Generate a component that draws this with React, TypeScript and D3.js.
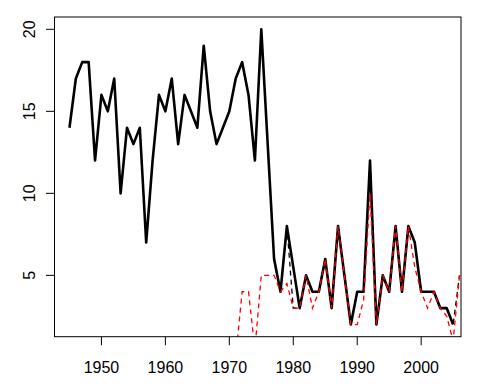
import React, { useEffect, useRef } from 'react';
import * as d3 from 'd3';

// observed series (solid black), 1945-2005
const obsYears = d3.range(1945, 2006);
const obsValues = [
  14, 17, 18, 18, 12, 16, 15, 17, 10, 14,
  13, 14, 7, 12, 16, 15, 17, 13, 16, 15,
  14, 19, 15, 13, 14, 15, 17, 18, 16, 12,
  20, 13, 6, 4, 8, 5.5, 3, 5, 4, 4,
  6, 3, 8, 5, 2, 4, 4, 12, 2, 5,
  4, 8, 4, 8, 7, 4, 4, 4, 3, 3,
  2,
];

// black dashed series, 1977-2006
const dashYears = d3.range(1977, 2007);
const dashValues = [
  6, 4, 8, 3, 3, 5, 4, 4, 6, 3,
  8, 5, 2, 4, 4, 12, 2, 5, 4, 8,
  4, 8, 7, 4, 4, 4, 3, 3, 2, 5,
];

// red dashed series, 1971-2006
const redYears = d3.range(1971, 2007);
const redValues = [
  0, 4, 4, 0.5, 5, 5, 5, 4, 4.5, 3,
  3, 5, 3, 4, 6, 3, 8, 5, 2, 2,
  3.5, 10, 2, 5, 4, 8, 4, 8, 5.5, 4,
  3, 4, 3, 2.5, 1, 5,
];

const xTicks = [1950, 1960, 1970, 1980, 1990, 2000];
const yTicks = [5, 10, 15, 20];

const W = 479;
const H = 391;

const App: React.FC = () => {
  const svgRef = useRef<SVGSVGElement>(null);

  useEffect(() => {
    if (!svgRef.current) return;
    d3.select(svgRef.current).selectAll('*').remove();
    const svg = d3.select(svgRef.current);

    const left = 54.5, right = 461, top = 17, bottom = 336.7;
    const x = d3.scaleLinear().domain([1942.66, 2006.23]).range([left, right]);
    const y = d3.scaleLinear().domain([1.26, 20.75]).range([bottom, top]);

    svg.append('clipPath').attr('id', 'plotclip')
      .append('rect')
      .attr('x', left).attr('y', top)
      .attr('width', right - left).attr('height', bottom - top);

    const line = d3.line<[number, number]>()
      .x(d => x(d[0]))
      .y(d => y(d[1]));

    const g = svg.append('g').attr('clip-path', 'url(#plotclip)');

    g.append('path')
      .attr('d', line(obsYears.map((yr, i) => [yr, obsValues[i]])) as string)
      .attr('fill', 'none')
      .attr('stroke', '#000')
      .attr('stroke-width', 2.6)
      .attr('stroke-linejoin', 'round');

    g.append('path')
      .attr('d', line(dashYears.map((yr, i) => [yr, dashValues[i]])) as string)
      .attr('fill', 'none')
      .attr('stroke', '#000')
      .attr('stroke-width', 1.3)
      .attr('stroke-dasharray', '5,4');

    g.append('path')
      .attr('d', line(redYears.map((yr, i) => [yr, redValues[i]])) as string)
      .attr('fill', 'none')
      .attr('stroke', '#ff0000')
      .attr('stroke-width', 1.3)
      .attr('stroke-dasharray', '5,4');

    // box
    svg.append('rect')
      .attr('x', left).attr('y', top)
      .attr('width', right - left).attr('height', bottom - top)
      .attr('fill', 'none').attr('stroke', '#000').attr('stroke-width', 1);

    // x axis
    const xa = svg.append('g');
    xTicks.forEach(t => {
      xa.append('line')
        .attr('x1', x(t)).attr('x2', x(t))
        .attr('y1', bottom).attr('y2', bottom + 8.5)
        .attr('stroke', '#000');
      xa.append('text')
        .attr('x', x(t)).attr('y', 373)
        .attr('text-anchor', 'middle')
        .attr('font-family', 'Liberation Sans, Arial, sans-serif')
        .attr('font-size', 16)
        .text(t);
    });

    // y axis
    const ya = svg.append('g');
    yTicks.forEach(t => {
      ya.append('line')
        .attr('x1', left).attr('x2', left - 8.5)
        .attr('y1', y(t)).attr('y2', y(t))
        .attr('stroke', '#000');
      ya.append('text')
        .attr('transform', `translate(35,${y(t)}) rotate(-90)`)
        .attr('text-anchor', 'middle')
        .attr('font-family', 'Liberation Sans, Arial, sans-serif')
        .attr('font-size', 16)
        .text(t);
    });
  }, []);

  return (
    <svg
      ref={svgRef}
      width={W}
      height={H}
      viewBox={`0 0 ${W} ${H}`}
      style={{ position: 'absolute', left: 0, top: 0, background: '#fff' }}
    />
  );
};

export default App;
